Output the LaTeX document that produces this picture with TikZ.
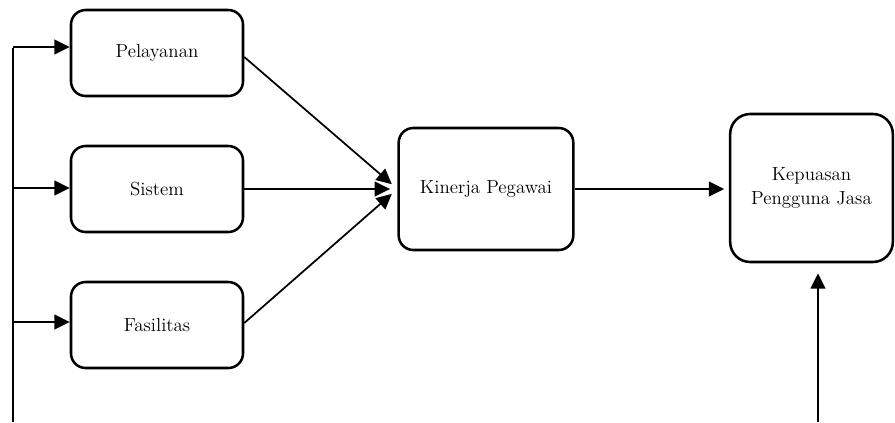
\documentclass[tikz,border=0pt]{standalone}
\usetikzlibrary{arrows.meta}
\tikzset{
  box/.style={draw, line width=1.9pt, rounded corners=11pt, align=center,
    font=\fontsize{14.2}{17.5}\selectfont},
  arr/.style={line width=1.3pt, -{Triangle[length=11.5pt,width=11pt]}},
  ln/.style={line width=1.3pt}
}
\begin{document}
\begin{tikzpicture}[x=0.75pt,y=-0.75pt]
\useasboundingbox (0,0) rectangle (895,422);
% faktor
  \node[box, minimum width=129pt, minimum height=64.5pt] (pel) at (157,53)  {Pelayanan};
  \node[box, minimum width=129pt, minimum height=64.5pt] (sis) at (157,189) {Sistem};
  \node[box, minimum width=129pt, minimum height=64.5pt] (fas) at (157,325) {Fasilitas};
  \node[box, minimum width=131pt, minimum height=91.5pt] (kin) at (486,189) {Kinerja Pegawai};
  \node[box, rounded corners=15pt, minimum width=122pt, minimum height=111pt]
    (kep) at (811.5,188) {Kepuasan\\Pengguna Jasa};
% garis kiri
  \coordinate (lft_top) at (13,48);
  \coordinate (lft_bot) at (13,422);
  \coordinate (in1) at (13,47);
  \coordinate (in2) at (13,188);
  \coordinate (in3) at (13,322);
  \draw[ln] (lft_top) -- (lft_bot);
  \draw[arr] (in1) -- (in1 -| pel.west);
  \draw[arr] (in2) -- (in2 -| sis.west);
  \draw[arr] (in3) -- (in3 -| fas.west);
% ke kinerja
  \draw[arr, shorten >=5.5pt] ([yshift=-3pt]pel.east) -- (kin.west);
  \draw[arr, shorten >=5.5pt] (sis.east) -- (kin.west);
  \draw[arr, shorten >=5.5pt] ([yshift=1.5pt]fas.east) -- (kin.west);
  \draw[arr, shorten >=3.5pt] (kin.east) -- (kin.east -| kep.west);
% garis bawah kanan
  \coordinate (kep_in) at (818,422);
  \draw[arr, shorten >=7.5pt] (kep_in) -- (kep_in |- kep.south);
\end{tikzpicture}
\end{document}
